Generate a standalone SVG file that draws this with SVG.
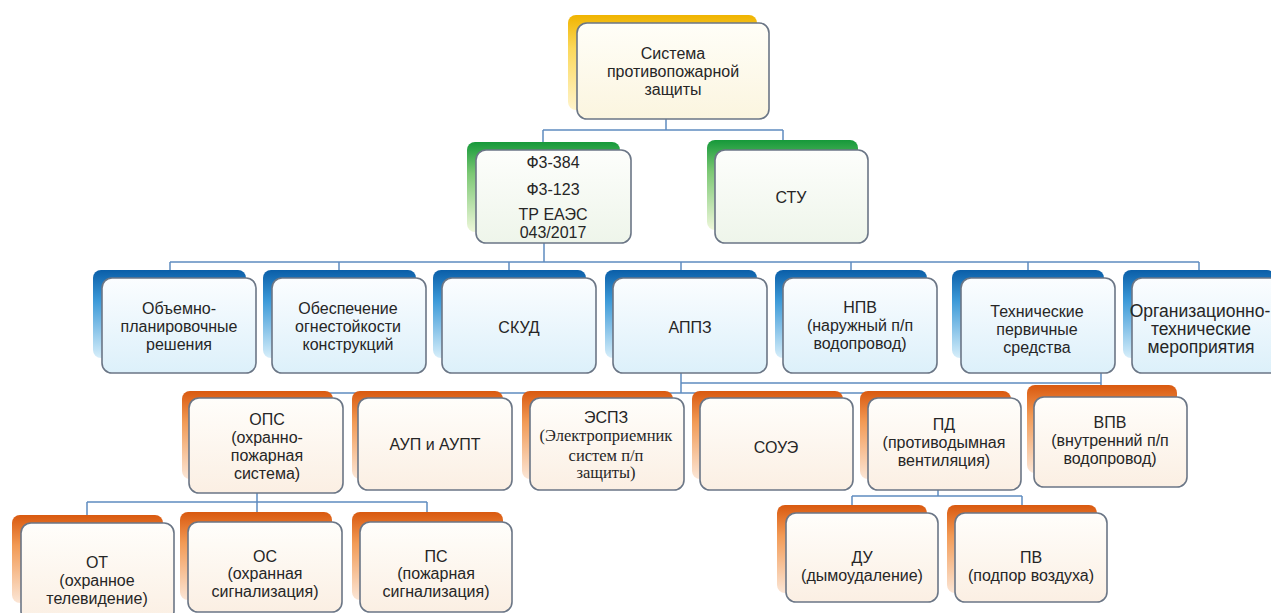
<svg xmlns="http://www.w3.org/2000/svg" width="1271" height="613" viewBox="0 0 1271 613">
<defs>
<linearGradient id="gY" x1="0" y1="0" x2="0" y2="1"><stop offset="0" stop-color="#f0b400"/><stop offset="0.35" stop-color="#fbd85a"/><stop offset="1" stop-color="#fff4cc"/></linearGradient>
<linearGradient id="gG" x1="0" y1="0" x2="0" y2="1"><stop offset="0" stop-color="#16993a"/><stop offset="0.35" stop-color="#7cc874"/><stop offset="1" stop-color="#eef7da"/></linearGradient>
<linearGradient id="gB" x1="0" y1="0" x2="0" y2="1"><stop offset="0" stop-color="#0a5ea8"/><stop offset="0.35" stop-color="#3d9ad8"/><stop offset="1" stop-color="#d6eefa"/></linearGradient>
<linearGradient id="gO" x1="0" y1="0" x2="0" y2="1"><stop offset="0" stop-color="#d9590f"/><stop offset="0.35" stop-color="#f29a55"/><stop offset="1" stop-color="#fbe6d6"/></linearGradient>
<linearGradient id="fY" x1="0" y1="0" x2="0" y2="1"><stop offset="0" stop-color="#fffef8"/><stop offset="1" stop-color="#fbf5df"/></linearGradient>
<linearGradient id="fG" x1="0" y1="0" x2="0" y2="1"><stop offset="0" stop-color="#fdfefc"/><stop offset="1" stop-color="#eef5ea"/></linearGradient>
<linearGradient id="fB" x1="0" y1="0" x2="0" y2="1"><stop offset="0" stop-color="#fbfdff"/><stop offset="1" stop-color="#dcf0fa"/></linearGradient>
<linearGradient id="fO" x1="0" y1="0" x2="0" y2="1"><stop offset="0" stop-color="#fffefb"/><stop offset="1" stop-color="#fbefe3"/></linearGradient>
</defs>
<style>
.bk{stroke:none}
.fr{stroke:#6b7686;stroke-width:1.6}
.y .bk{fill:url(#gY)} .y .fr{fill:url(#fY)}
.g .bk{fill:url(#gG)} .g .fr{fill:url(#fG)}
.b .bk{fill:url(#gB)} .b .fr{fill:url(#fB)}
.o .bk{fill:url(#gO)} .o .fr{fill:url(#fO)}
text{font-family:"Liberation Sans",Arial,sans-serif;font-size:16px;fill:#262626;text-anchor:middle}
text.s{font-family:"Liberation Serif","Times New Roman",serif;font-size:16.5px}
#conn path{fill:none;stroke:#5f8cc0;stroke-width:1.5}
</style>
<rect width="1271" height="613" fill="#ffffff"/>
<g id="conn">
<path d="M666 119V130M543 130H783M543 130V142M783 130V140"/>
<path d="M544 243V262M170 262H1199M170 262V270M339 262V270M509 262V270M681 262V270M851 262V270M1028 262V270M1199 262V270"/>
<path d="M681 373V393M258 393H935M258 393V391M427 393V391M597 393V391M767 393V391M935 393V391M681 383H1101V385M1101 373V385"/>
<path d="M257 493V502M87 502H427M87 502V515M257 502V512M427 502V512"/>
<path d="M938 490V496M852 496H1022M852 496V505M1022 496V505"/>
</g>
<g id="n-system" class="y"><rect class="bk" x="568" y="15" width="189" height="95" rx="8"/><rect class="fr" x="577" y="23" width="192" height="96" rx="10"/>
<text x="673" y="59">Система</text><text x="673" y="77">противопожарной</text><text x="673" y="95">защиты</text></g>
<g id="n-fz" class="g"><rect class="bk" x="467" y="142" width="153" height="90" rx="8"/><rect class="fr" x="476" y="150" width="155" height="93" rx="10"/>
<text x="553" y="168">Ф3-384</text><text x="553" y="195">Ф3-123</text><text x="553" y="220">ТР ЕАЭС</text><text x="553" y="238">043/2017</text></g>
<g id="n-stu" class="g"><rect class="bk" x="707" y="140" width="151" height="90" rx="8"/><rect class="fr" x="715" y="150" width="153" height="93" rx="10"/>
<text x="791" y="203">СТУ</text></g>
<g id="n-obj" class="b"><rect class="bk" x="93" y="270" width="153" height="88" rx="8"/><rect class="fr" x="102" y="278" width="154" height="95" rx="10"/>
<text x="179" y="314">Объемно-</text><text x="179" y="332">планировочные</text><text x="179" y="350">решения</text></g>
<g id="n-obes" class="b"><rect class="bk" x="263" y="270" width="153" height="88" rx="8"/><rect class="fr" x="272" y="278" width="154" height="95" rx="10"/>
<text x="348" y="314">Обеспечение</text><text x="348" y="332">огнестойкости</text><text x="348" y="350">конструкций</text></g>
<g id="n-skud" class="b"><rect class="bk" x="433" y="270" width="153" height="88" rx="8"/><rect class="fr" x="442" y="278" width="154" height="95" rx="10"/>
<text x="519" y="333">СКУД</text></g>
<g id="n-appz" class="b"><rect class="bk" x="605" y="270" width="152" height="88" rx="8"/><rect class="fr" x="613" y="278" width="154" height="95" rx="10"/>
<text x="690" y="333">АППЗ</text></g>
<g id="n-npv" class="b"><rect class="bk" x="775" y="270" width="152" height="88" rx="8"/><rect class="fr" x="783" y="278" width="154" height="95" rx="10"/>
<text x="860" y="313">НПВ</text><text x="860" y="331">(наружный п/п</text><text x="860" y="349">водопровод)</text></g>
<g id="n-teh" class="b"><rect class="bk" x="952" y="270" width="152" height="88" rx="8"/><rect class="fr" x="961" y="278" width="154" height="95" rx="10"/>
<text x="1037" y="317">Технические</text><text x="1037" y="335">первичные</text><text x="1037" y="353">средства</text></g>
<g id="n-org" class="b"><rect class="bk" x="1123" y="270" width="152" height="88" rx="8"/><rect class="fr" x="1132" y="278" width="154" height="95" rx="10"/>
<text x="1200" y="317" style="font-size:17.5px">Организационно-</text><text x="1201" y="335" style="font-size:17.5px">технические</text><text x="1201" y="353" style="font-size:17.5px">мероприятия</text></g>
<g id="n-ops" class="o"><rect class="bk" x="182" y="391" width="151" height="88" rx="8"/><rect class="fr" x="189" y="398" width="154" height="95" rx="10"/>
<text x="267" y="425">ОПС</text><text x="267" y="443">(охранно-</text><text x="267" y="461">пожарная</text><text x="267" y="479">система)</text></g>
<g id="n-aup" class="o"><rect class="bk" x="352" y="391" width="151" height="88" rx="8"/><rect class="fr" x="358" y="398" width="154" height="92" rx="10"/>
<text x="435" y="450">АУП и АУПТ</text></g>
<g id="n-espz" class="o"><rect class="bk" x="522" y="391" width="151" height="88" rx="8"/><rect class="fr" x="530" y="398" width="154" height="92" rx="10"/>
<text x="606" y="423">ЭСПЗ</text><text class="s" x="606" y="441">(Электроприемник</text><text class="s" x="606" y="461">систем п/п</text><text class="s" x="606" y="478">защиты)</text></g>
<g id="n-soue" class="o"><rect class="bk" x="692" y="391" width="151" height="88" rx="8"/><rect class="fr" x="700" y="398" width="153" height="92" rx="10"/>
<text x="776" y="453">СОУЭ</text></g>
<g id="n-pd" class="o"><rect class="bk" x="860" y="391" width="151" height="88" rx="8"/><rect class="fr" x="868" y="398" width="153" height="92" rx="10"/>
<text x="944" y="430">ПД</text><text x="944" y="448">(противодымная</text><text x="944" y="466">вентиляция)</text></g>
<g id="n-vpv" class="o"><rect class="bk" x="1027" y="385" width="150" height="88" rx="8"/><rect class="fr" x="1034" y="397" width="153" height="90" rx="10"/>
<text x="1110" y="428">ВПВ</text><text x="1110" y="446">(внутренний п/п</text><text x="1110" y="464">водопровод)</text></g>
<g id="n-ot" class="o"><rect class="bk" x="12" y="515" width="151" height="88" rx="8"/><rect class="fr" x="21" y="523" width="153" height="98" rx="10"/>
<text x="97" y="568">ОТ</text><text x="97" y="586">(охранное</text><text x="97" y="604">телевидение)</text></g>
<g id="n-os" class="o"><rect class="bk" x="180" y="512" width="152" height="88" rx="8"/><rect class="fr" x="188" y="522" width="154" height="90" rx="10"/>
<text x="265" y="562">ОС</text><text x="265" y="579">(охранная</text><text x="265" y="597">сигнализация)</text></g>
<g id="n-ps" class="o"><rect class="bk" x="352" y="512" width="151" height="88" rx="8"/><rect class="fr" x="360" y="522" width="152" height="90" rx="10"/>
<text x="436" y="562">ПС</text><text x="436" y="579">(пожарная</text><text x="436" y="597">сигнализация)</text></g>
<g id="n-du" class="o"><rect class="bk" x="777" y="505" width="150" height="88" rx="8"/><rect class="fr" x="786" y="513" width="152" height="89" rx="10"/>
<text x="862" y="563">ДУ</text><text x="862" y="581">(дымоудаление)</text></g>
<g id="n-pv" class="o"><rect class="bk" x="947" y="505" width="150" height="88" rx="8"/><rect class="fr" x="955" y="513" width="152" height="89" rx="10"/>
<text x="1031" y="563">ПВ</text><text x="1031" y="581">(подпор воздуха)</text></g>
</svg>
